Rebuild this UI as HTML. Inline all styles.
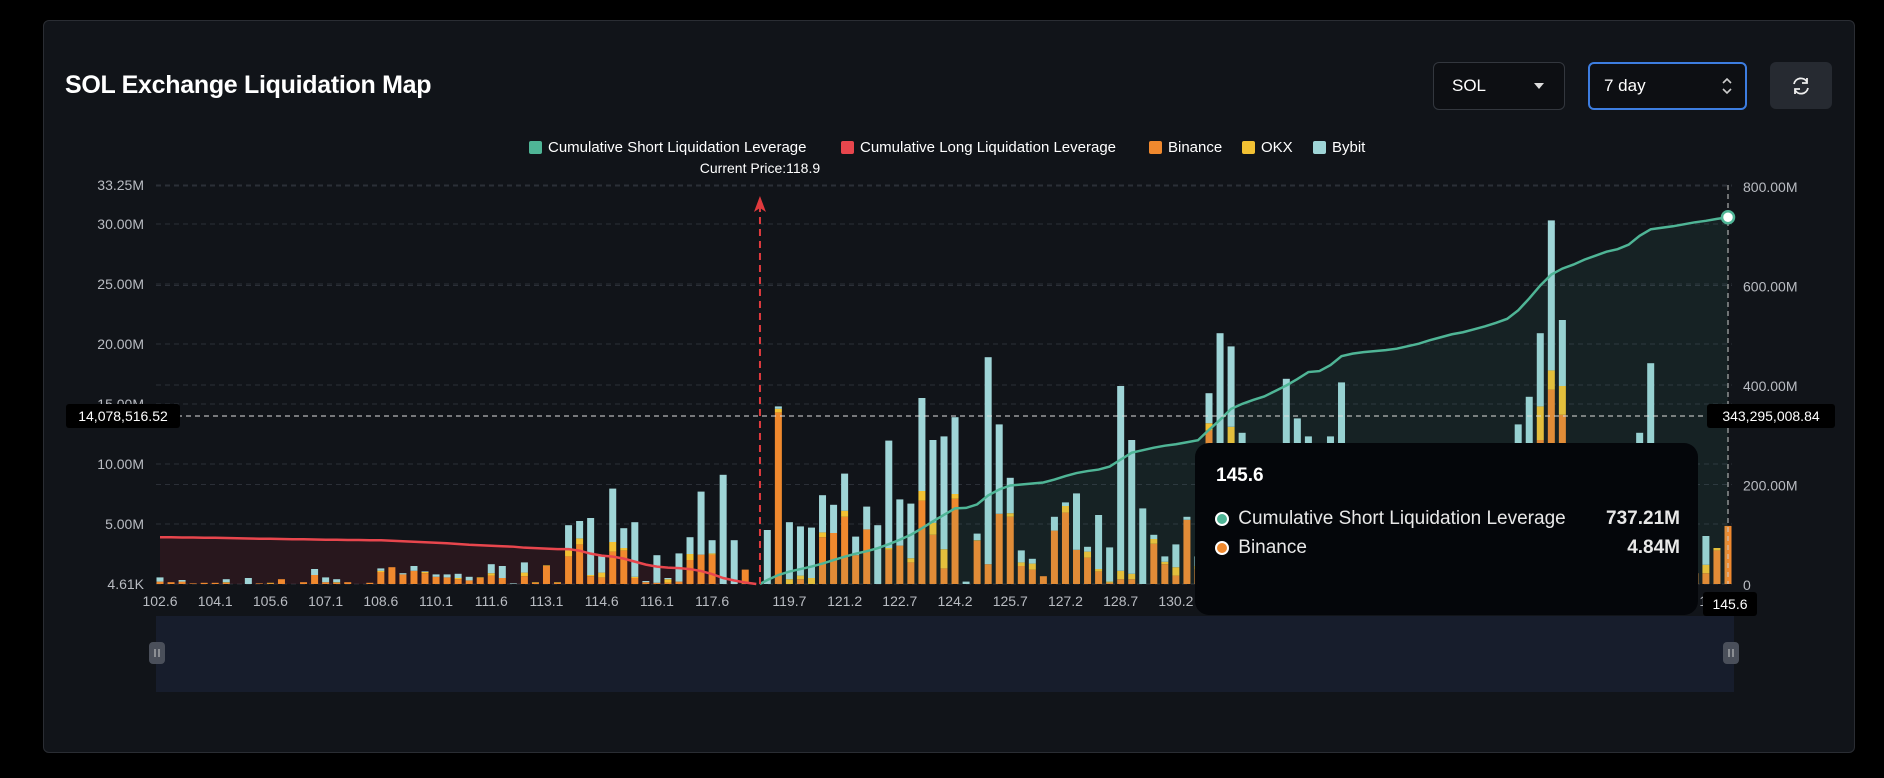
<!DOCTYPE html>
<html><head><meta charset="utf-8">
<style>
html,body{margin:0;padding:0;background:#000;width:1884px;height:778px;overflow:hidden;font-family:"Liberation Sans",sans-serif;}
#card{position:absolute;left:43px;top:20px;width:1810px;height:731px;background:#111419;border:1px solid #2a2d33;border-radius:6px;}
.abs{position:absolute;}
</style></head>
<body>
<div id="card"></div>
<div class="abs" style="left:65px;top:71px;color:#fff;font-weight:bold;font-size:25px;letter-spacing:-0.3px;">SOL Exchange Liquidation Map</div>
<div class="abs" style="left:1433px;top:62px;width:130px;height:46px;border:1px solid #33373e;border-radius:6px;background:#0d0f13;color:#fff;font-size:17px;">
 <span style="position:absolute;left:18px;top:13px;">SOL</span>
 <span style="position:absolute;right:20px;top:20px;width:0;height:0;border-left:5px solid transparent;border-right:5px solid transparent;border-top:6px solid #ddd;"></span>
</div>
<div class="abs" style="left:1588px;top:62px;width:155px;height:44px;border:2px solid #3d7de0;border-radius:6px;background:#0d0f13;color:#fff;font-size:17px;">
 <span style="position:absolute;left:14px;top:12px;">7 day</span>
 <svg style="position:absolute;right:12px;top:11px" width="12" height="22"><path d="M2 8 L6 4 L10 8 M2 14 L6 18 L10 14" stroke="#ccc" stroke-width="1.6" fill="none"/></svg>
</div>
<div class="abs" style="left:1770px;top:62px;width:62px;height:47px;border-radius:6px;background:#262a31;">
 <svg style="position:absolute;left:20px;top:13px" width="22" height="22" viewBox="0 0 22 22"><path d="M4 9 A7 7 0 0 1 17 7 M18 13 A7 7 0 0 1 5 15" stroke="#eee" stroke-width="1.8" fill="none"/><path d="M17 3 L17 8 L12 8 M5 19 L5 14 L10 14" stroke="#eee" stroke-width="1.8" fill="none"/></svg>
</div>

<svg id="chart" class="abs" style="left:0;top:0" width="1884" height="778"></svg>

<div class="abs" style="left:1195px;top:443px;width:503px;height:172px;background:#04060a;border-radius:14px;color:#e8e8e8;">
 <div style="position:absolute;left:21px;top:22px;font-size:19px;font-weight:bold;color:#fff;">145.6</div>
 <div style="position:absolute;left:20px;top:65px;width:465px;font-size:19px;">
  <span style="display:inline-block;width:10px;height:10px;border-radius:50%;background:#4fb596;border:2px solid #fff;vertical-align:middle;"></span>
  <span style="margin-left:4px;">Cumulative Short Liquidation Leverage</span>
  <span style="position:absolute;right:0;font-weight:bold;">737.21M</span>
 </div>
 <div style="position:absolute;left:20px;top:94px;width:465px;font-size:19px;">
  <span style="display:inline-block;width:10px;height:10px;border-radius:50%;background:#f0892e;border:2px solid #fff;vertical-align:middle;"></span>
  <span style="margin-left:4px;">Binance</span>
  <span style="position:absolute;right:0;font-weight:bold;">4.84M</span>
 </div>
</div>

<script>
const binance=[.2,.15,.2,.05,.1,.1,.1,0,0,.05,.05,.4,0,.15,.75,.15,.1,.15,0,.1,1.0,1.4,.8,1.1,.9,.6,.55,.4,.3,.5,.7,.5,0,.65,.1,1.5,.1,2.3,3.3,.65,.55,2.7,2.8,.5,.15,.1,.1,.2,2.0,2.45,2.45,0,0,1.2,0,0,14.3,0,.4,0,3.9,4.25,5.6,2.4,4.55,0,2.85,3.2,1.8,6.95,4.1,1.3,7.1,0,3.6,1.65,5.85,5.6,1.5,1.2,.65,4.45,5.95,2.85,2.2,1.05,.1,.4,.4,0,3.35,1.65,.7,5.35,1.2,12.8,.5,11.7,.5,1.5,.8,2.1,.6,.5,.4,1.2,.3,.5,.6,1.1,.3,0,.8,.2,.5,.3,1.0,.1,.4,0,.7,.9,1.5,.5,1,12,16.2,14.1,3.1,.4,0,.6,0,.2,1,1,.3,.1,.2,.9,.9,2.8,4.84];
const okx=[0,0,0,0,0,0,.05,0,0,0,.05,0,0,0,0,0,.05,0,0,0,.1,0,0,0,.1,0,0,.1,0,.05,.2,0,0,.3,.05,.05,.05,.5,.5,.1,.4,.8,.2,.1,0,0,.3,0,.5,0,.1,0,0,0,0,0,.3,.4,.3,.5,.4,0,.5,0,0,0,.15,0,.35,.8,1.0,1.6,.4,0,.05,0,0,.3,.3,.5,0,0,.55,0,.5,.2,.1,.7,.45,0,.4,.2,.7,0,.3,.6,0,1.4,0,.2,0,.3,0,0,0,.2,0,0,.1,0,0,0,.1,0,0,0,.2,0,0,0,.1,.3,.4,0,0,2.8,1.6,2.4,.5,0,0,0,0,0,0,0,0,0,0,0,.7,.2,0];
const bybit=[.35,0,.13,0,0,0,.25,0,.5,0,0,0,0,0,.5,.4,.25,0,0,0,.2,0,.1,.4,.05,.2,.25,.35,.3,0,.75,1.0,.05,.85,0,0,0,2.1,1.45,4.75,1.45,4.45,1.65,4.55,.1,2.3,.1,2.35,1.4,5.25,1.1,9.1,3.65,0,0,4.5,.2,4.75,4.1,4.2,3.1,2.35,3.1,1.55,1.9,4.9,8.95,3.85,4.55,7.75,6.9,9.4,6.4,.2,.55,17.25,7.45,2.95,1.0,.4,0,1.15,.3,4.7,.4,4.5,2.85,15.4,11.15,6.3,.35,.45,1.9,.25,.8,2.5,20.4,6.7,12.1,2.0,3.1,1.4,16.5,13.3,11.9,2.5,12,16.3,1.2,.5,.9,.4,.6,0,.7,.3,.5,.2,.6,.3,.9,2.1,5.5,12.8,14.6,6.1,12.5,5.5,1.0,.6,.3,.2,.5,3.0,11.6,17.4,.3,0,0,0,2.4,0,0];
const cumLong=[94,94,93.5,93.5,93,93,92.5,92,91.5,91,91,90.5,90,90,89.5,89,89,88.5,88.5,88,88,87,86,85,84,83,82,80.5,79,78,77,76,75,73,72,71,70,70,67,61,57,55,51,45,39,35,33,32,30,26,20,12,7,3,0];
const cumShort=[0,8,18,25,30,35,41,48,55,61,66,72,80,89,99,112,126,139,152,153,160,178,190,198,200,202,204,210,217,223,227,230,236,250,264,269,274,278,281,285,289,310,330,352,362,370,377,388,399,412,426,428,440,458,463,466,468,470,473,478,483,490,496,502,506,512,518,525,533,550,574,600,622,634,642,652,660,668,673,682,700,713,716,719,723,727,730,734,737.21];
const shortStart=54;
const tickIdx=[0,5,10,15,20,25,30,35,40,45,50,57,62,67,72,77,82,87,92,97,102,107,112,117,122,127,132,137,141];
const tickLabels=['102.6','104.1','105.6','107.1','108.6','110.1','111.6','113.1','114.6','116.1','117.6','119.7','121.2','122.7','124.2','125.7','127.2','128.7','130.2','131.7','133.2','134.7','136.2','137.7','139.2','140.7','142.2','143.7','145.2'];
const leftTicks=[33.25,30,25,20,15,10,5,0];
const leftTickLabels=['33.25M','30.00M','25.00M','20.00M','15.00M','10.00M','5.00M','4.61K'];
const rightTicks=[800,600,400,200,0];
const rightTickLabels=['800.00M','600.00M','400.00M','200.00M','0'];
const currentPrice=118.9, firstPrice=102.6, step=0.3;

const NS='http://www.w3.org/2000/svg';
const svg=document.getElementById('chart');
const X0=160,X1=1728,Y0=584,N=binance.length;
const xs=i=>X0+i*(X1-X0)/(N-1);
const yl=v=>Y0-v*12;
const yr=v=>Y0-v*(398/800);
function mk(tag,attrs,parent){const e=document.createElementNS(NS,tag);for(const k in attrs)e.setAttribute(k,attrs[k]);(parent||svg).appendChild(e);return e;}

leftTicks.forEach((v,i)=>{const g=mk('line',{x1:X0-4,x2:X1+4,y1:yl(v),y2:yl(v),stroke:'#2b2f37','stroke-dasharray':'5 4'});


const t=mk('text',{x:144,y:yl(v)+5,'text-anchor':'end',fill:'#b9bcc2','font-size':'14'});t.textContent=leftTickLabels[i];

});
rightTicks.forEach((v,i)=>{if(v>0){const g=mk('line',{x1:X0-4,x2:X1+4,y1:yr(v),y2:yr(v),stroke:'#2b2f37','stroke-dasharray':'5 4'});

}
const t=mk('text',{x:1743,y:yr(v)+6,fill:'#b9bcc2','font-size':'14'});t.textContent=rightTickLabels[i];

});

let pl=cumLong.map((v,i)=>xs(i)+','+yr(v));
const la=mk('polygon',{points:xs(0)+','+Y0+' '+pl.join(' ')+' '+xs(cumLong.length-1)+','+Y0,fill:'rgba(150,40,50,0.18)'});



const bw=7;
for(let i=0;i<N;i++){
 let base=0;
 [[binance,'#f0892e','bar-binance'],[okx,'#f2c133','bar-okx'],[bybit,'#9fd5d7','bar-bybit']].forEach(([arr,c,nm])=>{
  const v=arr[i]; if(v>0){const r=mk('rect',{x:xs(i)-bw/2,y:yl(base+v),width:bw,height:yl(base)-yl(base+v),fill:c});
  
  }
  base+=v;});
}
const ll=mk('polyline',{points:pl.join(' '),fill:'none',stroke:'#e8464d','stroke-width':'2.5'});



const cpx=X0+(currentPrice-firstPrice)/step*(X1-X0)/(N-1);
let ps=cumShort.map((v,k)=>{const x=k==0?cpx:xs(shortStart+k);return x+','+yr(v);});
const sa=mk('polygon',{points:cpx+','+Y0+' '+ps.join(' ')+' '+xs(N-1)+','+Y0,fill:'rgba(79,181,150,0.09)'});


const sl=mk('polyline',{points:ps.join(' '),fill:'none',stroke:'#4fb596','stroke-width':'2.5'});



tickIdx.forEach((ix,k)=>{const t=mk('text',{x:xs(ix),y:606,'text-anchor':'middle',fill:'#b9bcc2','font-size':'14'});t.textContent=tickLabels[k];

});

const cp=mk('line',{x1:cpx,x2:cpx,y1:Y0,y2:206,stroke:'#e03a3e','stroke-width':'2','stroke-dasharray':'7 5'});


const ca=mk('path',{d:`M${cpx} 196 L${cpx-6} 212 L${cpx} 208 L${cpx+6} 212 Z`,fill:'#e03a3e'});


const ct=mk('text',{x:cpx,y:173,'text-anchor':'middle',fill:'#fff','font-size':'14'});ct.textContent='Current Price:'+currentPrice;



const ch=mk('line',{x1:150,x2:1712,y1:416,y2:416,stroke:'#ddd','stroke-dasharray':'5 4'});


const cv=mk('line',{x1:X1,x2:X1,y1:185,y2:Y0,stroke:'#ccc','stroke-dasharray':'5 4'});


const dot=mk('circle',{cx:X1,cy:yr(cumShort[cumShort.length-1]),r:6,fill:'#fff',stroke:'#4fb596','stroke-width':'2.5'});


[[66,404,114,'14,078,516.52','crosshair-left-label'],[1707,404,128,'343,295,008.84','crosshair-right-label'],[1703,592,54,'145.6','crosshair-x-label']].forEach(([x,y,w,s,nm])=>{
 const r=mk('rect',{x:x,y:y,width:w,height:24,rx:3,fill:'#000'});
 
 
 const t=mk('text',{x:x+w/2,y:y+17,'text-anchor':'middle',fill:'#fff','font-size':'14'});t.textContent=s;
 
 
});

[[529,'#4fb596','Cumulative Short Liquidation Leverage'],[841,'#e8464d','Cumulative Long Liquidation Leverage'],[1149,'#f0892e','Binance'],[1242,'#f2c133','OKX'],[1313,'#9fd5d7','Bybit']].forEach(([x,c,s])=>{
 const r=mk('rect',{x:x,y:141,width:13,height:13,rx:2,fill:c});
 
 
 const t=mk('text',{x:x+19,y:152,fill:'#fff','font-size':'15'});t.textContent=s;
 
 
});

const sb=mk('rect',{x:156,y:616,width:1578,height:76,fill:'#171d2c'});


[157,1731].forEach(x=>{const h=mk('rect',{x:x-8,y:642,width:16,height:22,rx:4,fill:'#4a4f5a'});


mk('line',{x1:x-2,x2:x-2,y1:649,y2:657,stroke:'#ccc','stroke-width':'1'});mk('line',{x1:x+2,x2:x+2,y1:649,y2:657,stroke:'#ccc','stroke-width':'1'});});
</script>
</body></html>
